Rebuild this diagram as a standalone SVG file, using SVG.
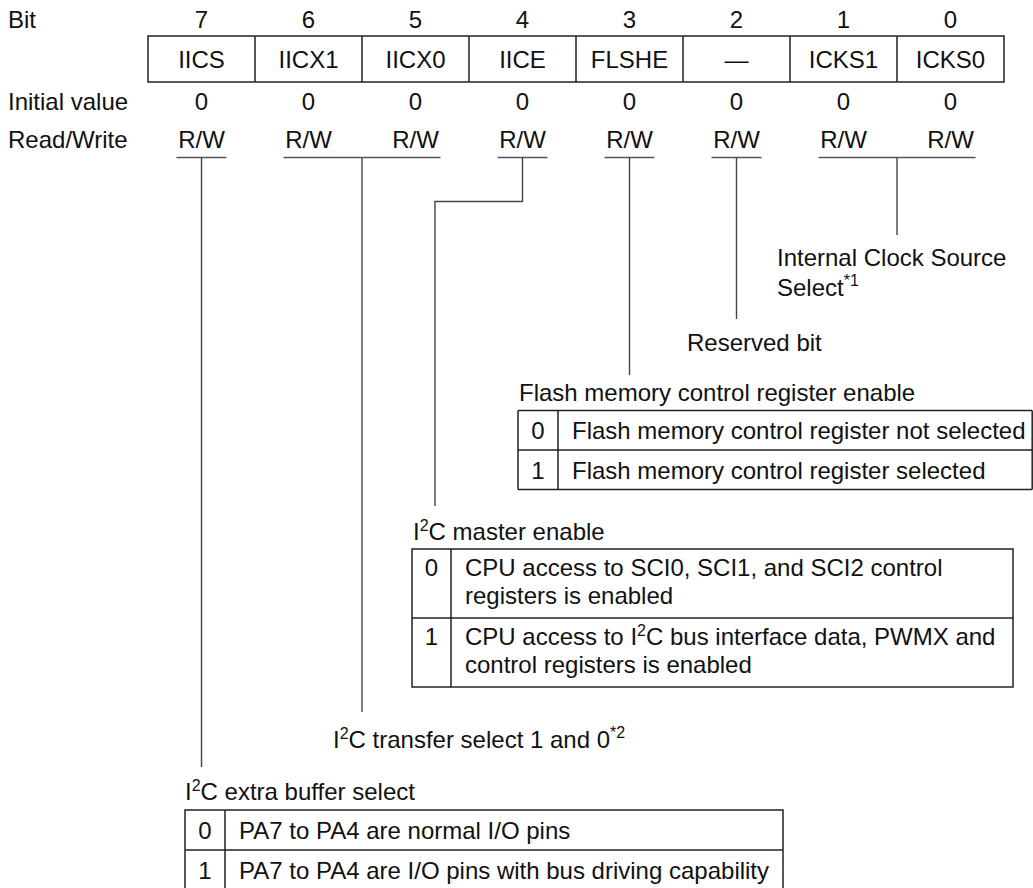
<svg xmlns="http://www.w3.org/2000/svg" width="1033" height="888" viewBox="0 0 1033 888">
<style>
text { font-family: "Liberation Sans", Arial, Helvetica, sans-serif; font-size: 24px; fill: #111; }
.c { text-anchor: middle; }
.sup { font-size: 16px; }
.tbl { fill: none; stroke: #222; stroke-width: 1.5; }
.ln { fill: none; stroke: #444; stroke-width: 1.4; }
.ul { fill: none; stroke: #555; stroke-width: 1.4; }
</style>
<rect width="1033" height="888" fill="#fff"/>

<g id="row-labels">
<text x="8" y="28">Bit</text>
<text x="8" y="110">Initial value</text>
<text x="8" y="148">Read/Write</text>
</g>

<g id="register">
<g id="bit-numbers">
<text class="c" x="201.5" y="28">7</text>
<text class="c" x="308.5" y="28">6</text>
<text class="c" x="415.5" y="28">5</text>
<text class="c" x="522.5" y="28">4</text>
<text class="c" x="629.5" y="28">3</text>
<text class="c" x="736.5" y="28">2</text>
<text class="c" x="843.5" y="28">1</text>
<text class="c" x="950.5" y="28">0</text>
</g>
<rect class="tbl" x="148" y="36" width="856" height="46"/>
<path class="tbl" d="M255 36V82M362 36V82M469 36V82M576 36V82M683 36V82M790 36V82M897 36V82"/>
<g id="bit-names">
<text class="c" x="201.5" y="68">IICS</text>
<text class="c" x="308.5" y="68">IICX1</text>
<text class="c" x="415.5" y="68">IICX0</text>
<text class="c" x="522.5" y="68">IICE</text>
<text class="c" x="629.5" y="68">FLSHE</text>
<text class="c" x="736.5" y="68">—</text>
<text class="c" x="843.5" y="68">ICKS1</text>
<text class="c" x="950.5" y="68">ICKS0</text>
</g>
<g id="initial-values">
<text class="c" x="201.5" y="110">0</text>
<text class="c" x="308.5" y="110">0</text>
<text class="c" x="415.5" y="110">0</text>
<text class="c" x="522.5" y="110">0</text>
<text class="c" x="629.5" y="110">0</text>
<text class="c" x="736.5" y="110">0</text>
<text class="c" x="843.5" y="110">0</text>
<text class="c" x="950.5" y="110">0</text>
</g>
<g id="rw">
<text class="c" x="201.5" y="148">R/W</text>
<text class="c" x="308.5" y="148">R/W</text>
<text class="c" x="415.5" y="148">R/W</text>
<text class="c" x="522.5" y="148">R/W</text>
<text class="c" x="629.5" y="148">R/W</text>
<text class="c" x="736.5" y="148">R/W</text>
<text class="c" x="843.5" y="148">R/W</text>
<text class="c" x="950.5" y="148">R/W</text>
</g>
</g>

<g id="connectors">
<path class="ul" d="M176.5 157.5H226.5M283.5 157.5H440.5M497.5 157.5H547.5M604.5 157.5H654.5M711.5 157.5H761.5M818.5 157.5H975.5"/>
<path class="ln" d="M201.5 157.5V767"/>
<path class="ln" d="M362 157.5V712"/>
<path class="ln" d="M522.5 157.5V201.5H435V506"/>
<path class="ln" d="M629.5 157.5V375"/>
<path class="ln" d="M736.5 157.5V319"/>
<path class="ln" d="M897 157.5V235"/>
</g>

<g id="icks">
<text x="777" y="266">Internal Clock Source</text>
<text x="777" y="296">Select<tspan class="sup" dy="-10">*1</tspan></text>
</g>

<g id="reserved">
<text x="687" y="351">Reserved bit</text>
</g>

<g id="flshe">
<text x="519" y="401">Flash memory control register enable</text>
<path class="tbl" d="M518 410.5H1032.2M518 450H1032.2M518 489.5H1032.2M518 410.5V489.5M558 410.5V489.5M1032.2 410.5V489.5"/>
<text class="c" x="538" y="438.5">0</text>
<text x="572" y="438.5">Flash memory control register not selected</text>
<text class="c" x="538" y="478.5">1</text>
<text x="572" y="478.5">Flash memory control register selected</text>
</g>

<g id="iice">
<text x="413" y="540">I<tspan class="sup" dy="-9">2</tspan><tspan dy="9">C master enable</tspan></text>
<rect class="tbl" x="412" y="549" width="601" height="138"/>
<path class="tbl" d="M412 618H1013M451 549V687"/>
<text class="c" x="431.5" y="576">0</text>
<text x="465" y="576">CPU access to SCI0, SCI1, and SCI2 control</text>
<text x="465" y="604">registers is enabled</text>
<text class="c" x="431.5" y="645">1</text>
<text x="465" y="645">CPU access to I<tspan class="sup" dy="-9">2</tspan><tspan dy="9">C bus interface data, PWMX and</tspan></text>
<text x="465" y="673">control registers is enabled</text>
</g>

<g id="iicx">
<text x="333" y="748">I<tspan class="sup" dy="-9">2</tspan><tspan dy="9">C transfer select 1 and 0</tspan><tspan class="sup" dy="-10">*2</tspan></text>
</g>

<g id="iics">
<text x="185" y="800">I<tspan class="sup" dy="-9">2</tspan><tspan dy="9">C extra buffer select</tspan></text>
<rect class="tbl" x="185" y="810" width="598" height="80"/>
<path class="tbl" d="M185 850H783M225 810V890"/>
<text class="c" x="205" y="838.5">0</text>
<text x="239" y="838.5">PA7 to PA4 are normal I/O pins</text>
<text class="c" x="205" y="878.5">1</text>
<text x="239" y="878.5">PA7 to PA4 are I/O pins with bus driving capability</text>
</g>
</svg>
